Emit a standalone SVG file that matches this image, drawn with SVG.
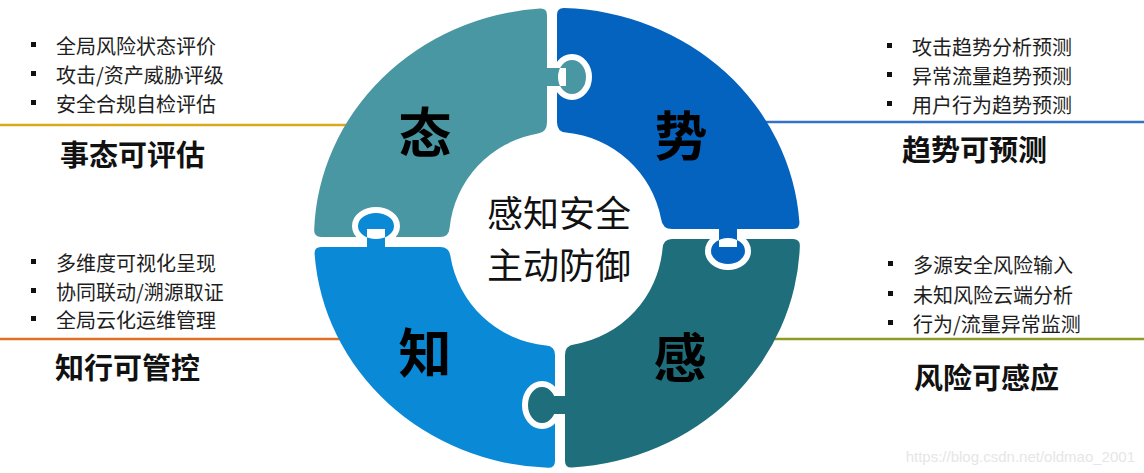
<svg xmlns="http://www.w3.org/2000/svg" width="1144" height="473" viewBox="0 0 1144 473">
<style>
.item{font-family:"Noto Sans CJK SC","Noto Sans",sans-serif;font-size:20px;fill:#1e1e1e;dominant-baseline:central}
.head{font-family:"Noto Sans CJK SC","Noto Sans",sans-serif;font-size:29px;font-weight:bold;fill:#111;dominant-baseline:central}
.big{font-family:"Noto Sans CJK SC","Noto Sans",sans-serif;font-size:53px;font-weight:bold;fill:#000;text-anchor:middle;dominant-baseline:central}
.mid{font-family:"Noto Sans CJK SC","Noto Sans",sans-serif;font-size:36px;fill:#111;text-anchor:middle;dominant-baseline:central}
.knob{stroke:#fff;stroke-width:12;stroke-linejoin:round;paint-order:stroke}
.bul{fill:#111}
</style>
<rect width="1144" height="473" fill="#fff"/>
<g id="connectors" stroke-width="2.5" fill="none">
<line x1="0" y1="125" x2="360" y2="125" stroke="#D8A91C"/>
<line x1="750" y1="122" x2="1144" y2="122" stroke="#3372C4"/>
<line x1="0" y1="339" x2="350" y2="339" stroke="#E07020"/>
<line x1="760" y1="339" x2="1144" y2="339" stroke="#8E9A22"/>
</g>
<g id="piece-tai">
<path fill="#4A97A4" d="M321,237 Q314,237 314.15,230 A243,230 0 0,1 540,8.56 Q547,8.2 547,15 L547,122 Q547,132.4 538,133.5 A107,107 0 0,0 449.6,228 Q449,237 440,237 Z"/>
</g>
<g id="piece-shi">
<path fill="#0563C0" d="M557,15 Q557,8 564,8.1 A243,230 0 0,1 799.4,222 Q799.8,229 793,229 L672,229 Q662.5,229 661.1,219 A107,107 0 0,0 566,132.5 Q557,132 557,122 Z"/>
</g>
<g id="piece-zhi">
<path fill="#0A89D7" d="M321,247 L440,247 Q449.3,247 450.4,256 A107,107 0 0,0 546,345.5 Q555,346 555,355 L555,461 Q555,468 548,467.8 A243,230 0 0,1 314.6,254 Q314.15,247 321,247 Z"/>
</g>
<g id="piece-gan">
<path fill="#1E6E7B" d="M672,239 L793,239 Q800,239 799.85,246 A243,230 0 0,1 572,467.56 Q565,467.87 565,461 L565,355 Q565,345.6 574,344.5 A107,107 0 0,0 662.5,249 Q663,239 672,239 Z"/>
</g>
<g id="knobs">
<path class="knob" fill="#4A97A4" d="M538,68 H566 V86 H538 Z M558,77 A14,17 0 1,0 586,77 A14,17 0 1,0 558,77 Z"/>
<rect x="528" y="58" width="19" height="38" fill="#4A97A4"/>
<path class="knob" fill="#0563C0" d="M719,221 H737 V247 H719 Z M711,251 A17,13 0 1,0 745,251 A17,13 0 1,0 711,251 Z"/>
<rect x="707" y="212" width="42" height="17" fill="#0563C0"/>
<path class="knob" fill="#0A89D7" d="M367,255 V229 H385 V255 Z M358,226 A18,13 0 1,0 394,226 A18,13 0 1,0 358,226 Z"/>
<rect x="355" y="247" width="42" height="17" fill="#0A89D7"/>
<path class="knob" fill="#1E6E7B" d="M573,396 H546 V414 H573 Z M528,405 A14,18 0 1,0 556,405 A14,18 0 1,0 528,405 Z"/>
<rect x="565" y="384" width="17" height="42" fill="#1E6E7B"/>
</g>
<g id="labels-big">
<text class="big" x="425" y="130">态</text>
<text class="big" x="681" y="133">势</text>
<text class="big" x="425" y="350">知</text>
<text class="big" x="680" y="355">感</text>
</g>
<g id="center">
<text class="mid" x="559" y="211">感知安全</text>
<text class="mid" x="559" y="263">主动防御</text>
</g>
<g id="top-left">
<rect class="bul" x="31" y="42" width="5" height="5"/>
<rect class="bul" x="31" y="71" width="5" height="5"/>
<rect class="bul" x="31" y="100" width="5" height="5"/>
<text class="item" x="56" y="45">全局风险状态评价</text>
<text class="item" x="56" y="74">攻击/资产威胁评级</text>
<text class="item" x="56" y="103">安全合规自检评估</text>
<text class="head" x="60" y="153">事态可评估</text>
</g>
<g id="top-right">
<rect class="bul" x="887" y="43" width="5" height="5"/>
<rect class="bul" x="887" y="72" width="5" height="5"/>
<rect class="bul" x="887" y="101" width="5" height="5"/>
<text class="item" x="912" y="46">攻击趋势分析预测</text>
<text class="item" x="912" y="75">异常流量趋势预测</text>
<text class="item" x="912" y="104">用户行为趋势预测</text>
<text class="head" x="902" y="148">趋势可预测</text>
</g>
<g id="bottom-left">
<rect class="bul" x="31" y="259" width="5" height="5"/>
<rect class="bul" x="31" y="288" width="5" height="5"/>
<rect class="bul" x="31" y="316" width="5" height="5"/>
<text class="item" x="56" y="262">多维度可视化呈现</text>
<text class="item" x="56" y="291">协同联动/溯源取证</text>
<text class="item" x="56" y="319">全局云化运维管理</text>
<text class="head" x="55" y="366">知行可管控</text>
</g>
<g id="bottom-right">
<rect class="bul" x="888" y="261" width="5" height="5"/>
<rect class="bul" x="888" y="291" width="5" height="5"/>
<rect class="bul" x="888" y="320" width="5" height="5"/>
<text class="item" x="913" y="264">多源安全风险输入</text>
<text class="item" x="913" y="294">未知风险云端分析</text>
<text class="item" x="913" y="323">行为/流量异常监测</text>
<text class="head" x="914" y="376">风险可感应</text>
</g>
<text x="1135" y="456" text-anchor="end" dominant-baseline="central" font-family="Liberation Sans, Arial, sans-serif" font-size="15" fill="#e6e6e6">https://blog.csdn.net/oldmao_2001</text>
</svg>
